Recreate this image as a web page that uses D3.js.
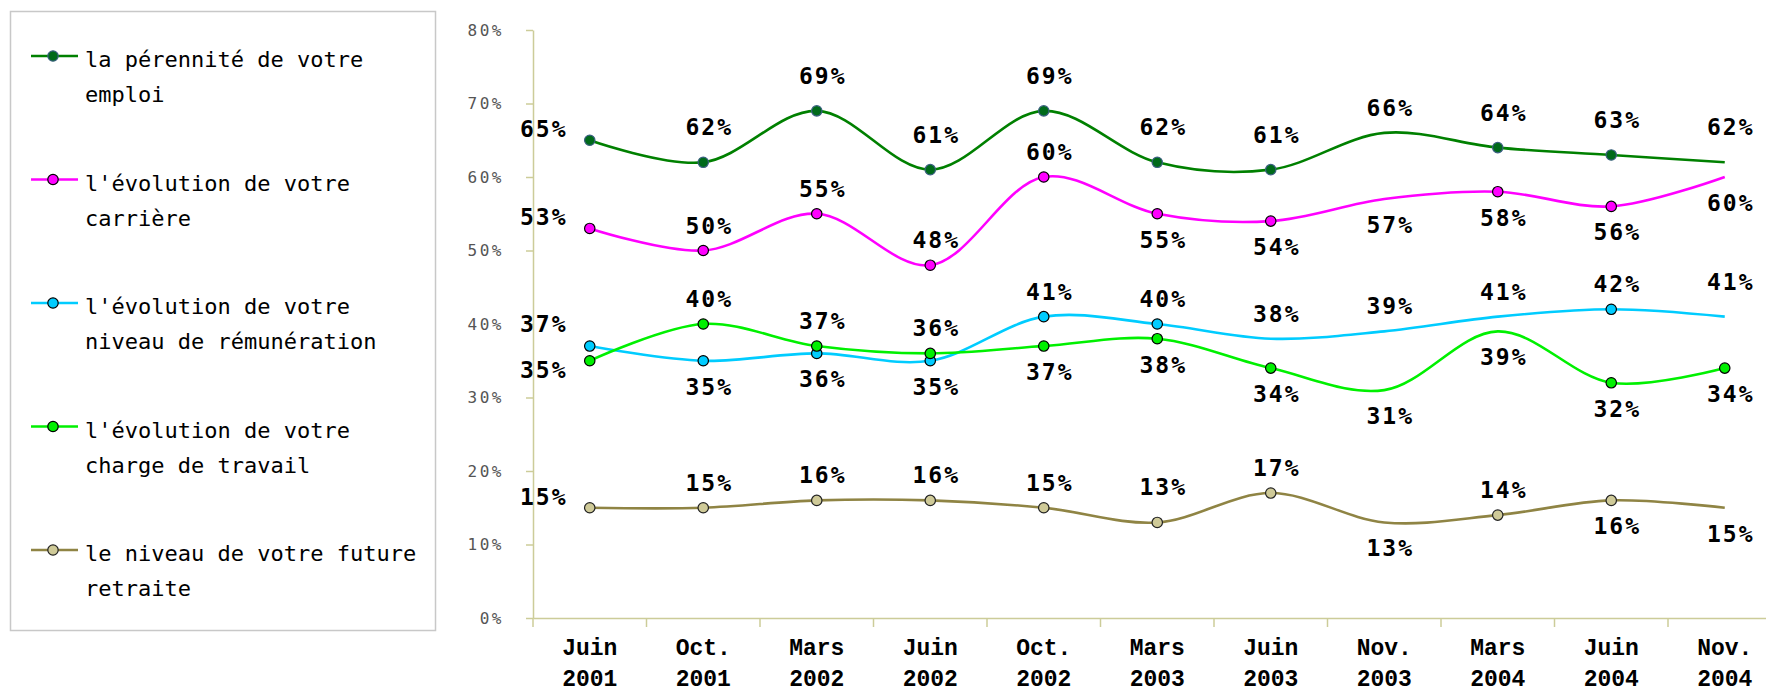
<!DOCTYPE html>
<html>
<head>
<meta charset="utf-8">
<script src="https://cdnjs.cloudflare.com/ajax/libs/d3/7.8.5/d3.min.js"></script>
<style>
  body { margin: 0; background: #fff; }
  svg { display: block; }
</style>
</head>
<body>
<div id="chart"></div>
<script>
// categories (two lines each)
var categories = ["Juin 2001", "Oct. 2001", "Mars 2002", "Juin 2002", "Oct. 2002", "Mars 2003",
                  "Juin 2003", "Nov. 2003", "Mars 2004", "Juin 2004", "Nov. 2004"];
var yTicks = [0, 10, 20, 30, 40, 50, 60, 70, 80];

var seriesNames = [
  ["la pérennité de votre", "emploi"],
  ["l'évolution de votre", "carrière"],
  ["l'évolution de votre", "niveau de rémunération"],
  ["l'évolution de votre", "charge de travail"],
  ["le niveau de votre future", "retraite"]
];

var emploi     = [65, 62, 69, 61, 69, 62, 61, 66, 64, 63, 62];
var carriere   = [53, 50, 55, 48, 60, 55, 54, 57, 58, 56, 60];
var remun      = [37, 35, 36, 35, 41, 40, 38, 39, 41, 42, 41];
var charge     = [35, 40, 37, 36, 37, 38, 34, 31, 39, 32, 34];
var retraite   = [15, 15, 16, 16, 15, 13, 17, 13, 14, 16, 15];

// points drawn without a marker in the original
var noMarker = [[7, 10], [7, 10], [6, 7, 8, 10], [7, 8], [7, 10]];

// label placement: T/t = above, b = below, l / tl / bl = left of the point
var labelPos = [
  ["l", "T", "T", "T", "T", "T", "T", "t", "T", "T", "T"],
  ["l", "t", "t", "t", "t", "b", "b", "b", "b", "b", "b"],
  ["tl", "b", "b", "b", "t", "t", "t", "t", "t", "t", "T"],
  ["bl", "t", "t", "t", "b", "b", "b", "b", "b", "b", "b"],
  ["l", "t", "t", "t", "t", "T", "t", "b", "t", "b", "b"]
];

var styles = [
  { line: "#008000", fill: "#006a1a", stroke: "#3a6080" },
  { line: "#ff00ff", fill: "#ff00ff", stroke: "#000" },
  { line: "#00ccff", fill: "#00ccff", stroke: "#000" },
  { line: "#00f000", fill: "#00f000", stroke: "#000" },
  { line: "#8f8444", fill: "#cfca98", stroke: "#222" }
];

var allSeries = [emploi, carriere, remun, charge, retraite];

var width = 1766, height = 694;
var svg = d3.select("#chart").append("svg")
  .attr("width", width)
  .attr("height", height);

var plotLeft = 533, band = 113.5;
var x = d3.scaleBand()
  .domain(categories)
  .range([plotLeft, plotLeft + band * categories.length])
  .padding(0);
var y = d3.scaleLinear().domain([0, 80]).range([618, 30]);
var cx = function(i) { return x(categories[i]) + x.bandwidth() / 2; };

var axisColor = "#cccc99";

// y axis
var yAxis = svg.append("g")
  .attr("transform", "translate(" + plotLeft + ",0)")
  .call(d3.axisLeft(y).tickValues(yTicks).tickFormat(function(d) { return d + "%"; })
    .tickSize(7).tickSizeOuter(0).tickPadding(22));
yAxis.select(".domain").attr("stroke", axisColor).attr("stroke-width", 1.5);
yAxis.selectAll(".tick line").attr("stroke", axisColor).attr("stroke-width", 1.5);
yAxis.selectAll(".tick text")
  .attr("font-family", "DejaVu Sans Mono")
  .attr("font-size", 16)
  .attr("letter-spacing", "2.5px")
  .attr("fill", "#555");

// x axis
var xAxis = svg.append("g")
  .attr("transform", "translate(0,618)")
  .call(d3.axisBottom(x).tickSize(0).tickSizeOuter(0).tickPadding(0));
xAxis.select(".domain").attr("stroke", axisColor).attr("stroke-width", 1.5);
xAxis.selectAll(".tick text").each(function(d) {
  var parts = d.split(" ");
  var t = d3.select(this).text(null)
    .attr("font-family", "Liberation Mono")
    .attr("font-weight", "bold")
    .attr("font-size", 23)
    .attr("fill", "#000")
    .attr("y", 0).attr("dy", null);
  t.append("tspan").attr("x", 0).attr("y", 37).text(parts[0]);
  t.append("tspan").attr("x", 0).attr("y", 68).text(parts[1]);
});
xAxis.selectAll(".boundary")
  .data(d3.range(categories.length + 1))
  .enter().append("line")
  .attr("x1", function(i) { return plotLeft + i * x.step(); })
  .attr("x2", function(i) { return plotLeft + i * x.step(); })
  .attr("y1", 0).attr("y2", 9)
  .attr("stroke", axisColor).attr("stroke-width", 1.5);

// lines
var line = d3.line()
  .x(function(d, i) { return cx(i); })
  .y(function(d) { return y(d); })
  .curve(d3.curveCatmullRom.alpha(0.5));

allSeries.forEach(function(data, s) {
  var st = styles[s];
  var g = svg.append("g");
  g.append("path")
    .attr("d", line(data))
    .attr("fill", "none")
    .attr("stroke", st.line)
    .attr("stroke-width", 2.6);
  g.selectAll("circle")
    .data(data.map(function(v, i) { return { v: v, i: i }; })
      .filter(function(d) { return noMarker[s].indexOf(d.i) < 0; }))
    .enter().append("circle")
    .attr("cx", function(d) { return cx(d.i); })
    .attr("cy", function(d) { return y(d.v); })
    .attr("r", 5.2)
    .attr("fill", st.fill)
    .attr("stroke", st.stroke)
    .attr("stroke-width", 1.2);
});

// value labels
var offsets = {
  T:  { dx: 6,   dy: -27 },
  t:  { dx: 6,   dy: -17 },
  b:  { dx: 6,   dy: 34 },
  l:  { dx: -46, dy: -3 },
  tl: { dx: -46, dy: -14 },
  bl: { dx: -46, dy: 17 }
};
allSeries.forEach(function(data, s) {
  svg.append("g").selectAll("text")
    .data(data)
    .enter().append("text")
    .attr("x", function(d, i) { return cx(i) + offsets[labelPos[s][i]].dx; })
    .attr("y", function(d, i) { return y(d) + offsets[labelPos[s][i]].dy; })
    .attr("text-anchor", "middle")
    .attr("font-family", "DejaVu Sans Mono")
    .attr("font-weight", "bold")
    .attr("font-size", 23)
    .attr("letter-spacing", "2px")
    .attr("fill", "#000")
    .text(function(d) { return d + "%"; });
});

// legend
var legend = svg.append("g");
legend.append("rect")
  .attr("x", 10.5).attr("y", 11.5)
  .attr("width", 425).attr("height", 619)
  .attr("fill", "#fff")
  .attr("stroke", "#c8c8c8")
  .attr("stroke-width", 1.5);

seriesNames.forEach(function(name, s) {
  var st = styles[s];
  var ly = 56 + s * 123.5;
  var item = legend.append("g");
  item.append("line")
    .attr("x1", 31).attr("x2", 78)
    .attr("y1", ly).attr("y2", ly)
    .attr("stroke", st.line).attr("stroke-width", 2.6);
  item.append("circle")
    .attr("cx", 53).attr("cy", ly).attr("r", 5.2)
    .attr("fill", st.fill).attr("stroke", st.stroke).attr("stroke-width", 1.2);
  var t = item.append("text")
    .attr("font-family", "DejaVu Sans Mono")
    .attr("font-size", 22)
    .attr("fill", "#000");
  t.append("tspan").attr("x", 85).attr("y", ly + 11).text(name[0]);
  t.append("tspan").attr("x", 85).attr("y", ly + 46).text(name[1]);
});
</script>
</body>
</html>
